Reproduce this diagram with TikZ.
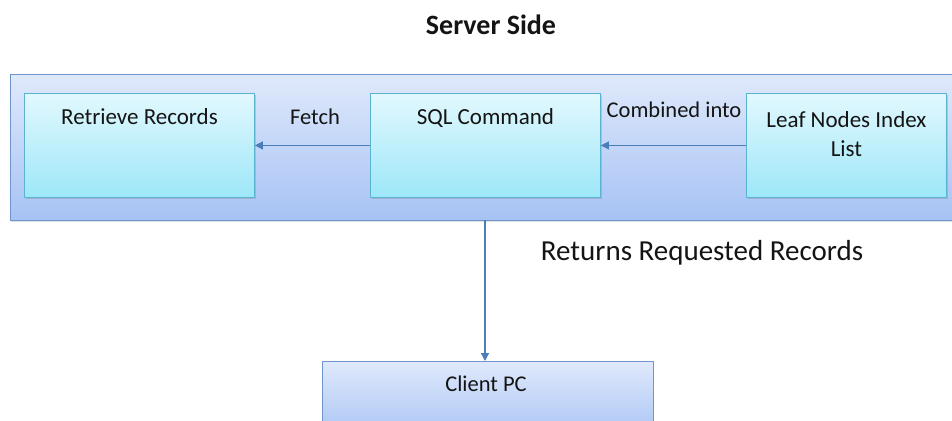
\documentclass[tikz,border=0pt]{standalone}
\usepackage{fontspec}
\setmainfont{Carlito}
\usetikzlibrary{arrows.meta,shadows}

\definecolor{srvTop}{HTML}{DFE9FB}
\definecolor{srvBot}{HTML}{A6C2F4}
\definecolor{srvLine}{HTML}{6F96CC}
\definecolor{boxTop}{HTML}{E2F8FE}
\definecolor{boxBot}{HTML}{9DE7F8}
\definecolor{boxLine}{HTML}{5AB4CF}
\definecolor{flow}{HTML}{4A7EBB}
\definecolor{ink}{HTML}{141414}

\tikzset{
  area/.style={draw=srvLine, line width=0.9pt, top color=srvTop, bottom color=srvBot,
    drop shadow={shadow xshift=1pt, shadow yshift=-2pt, opacity=0.25}},
  stage/.style={draw=boxLine, line width=0.9pt, top color=boxTop, bottom color=boxBot,
    minimum width=230pt, minimum height=104pt, anchor=north west, inner sep=0pt,
    drop shadow={shadow xshift=2pt, shadow yshift=-2pt, opacity=0.3}},
  client/.style={draw=srvLine, line width=0.9pt, top color=srvTop, bottom color=srvBot,
    anchor=north west, inner sep=0pt},
  caption/.style={font=\fontsize{23}{29}\selectfont, text=ink, align=center, anchor=center},
  flowarrow/.style={draw=flow, line width=1.2pt, -{Triangle[length=8pt,width=8pt]}},
  flowtext/.style={font=\fontsize{22.5}{27}\selectfont, text=ink}
}

\begin{document}
\begin{tikzpicture}[x=1pt, y=-1pt]
  \clip (0,0) rectangle (952,420);

  % title
  \node[font=\bfseries\fontsize{28}{32}\selectfont, text=ink] (title) at (491,25) {Server Side};

  % server area
  \node[area, minimum width=960pt, minimum height=146pt, anchor=north west, inner sep=0pt]
    (server) at (10,74) {};

  % stages inside the server
  \node[stage] (retrieve) at (24,93) {};
  \node[caption] (retrieveT) at ([yshift=-24pt]retrieve.north) {Retrieve Records};

  \node[stage] (sql) at (370,93) {};
  \node[caption] (sqlT) at ([yshift=-25pt]sql.north) {SQL Command};

  \node[stage, minimum width=200pt] (leaf) at (746,93) {};
  \node[caption] (leafT) at ([yshift=-41pt]leaf.north) {Leaf Nodes Index\\List};

  % flows between the stages
  \draw[flowarrow] (sql.west) -- (retrieve.east);
  \node[flowtext] (fetch) at (315,117) {Fetch};
  \draw[flowarrow] (leaf.west) -- (sql.east);
  \node[flowtext] (combined) at (674,110) {Combined into};

  % client
  \node[client, minimum width=331pt, minimum height=80pt] (pc) at (322,361) {};
  \node[caption, font=\fontsize{22.5}{27}\selectfont] (pcT) at (486,384) {Client PC};

  \coordinate (down) at (485,220);
  \draw[flowarrow] (down) -- (down |- pc.north);
  \node[font=\fontsize{29}{33}\selectfont, text=ink] (returns) at (702,253) {Returns Requested Records};
\end{tikzpicture}
\end{document}
